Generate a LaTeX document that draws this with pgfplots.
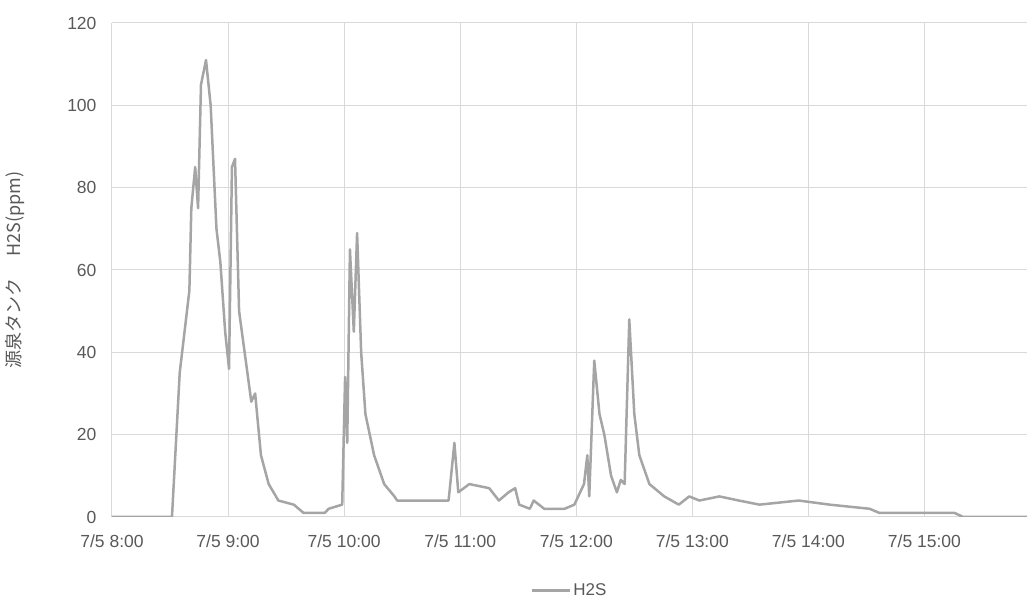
\documentclass[border=0pt]{standalone}
\usepackage{pgfplots}
\pgfplotsset{compat=1.18}
\usepackage{fontspec}
\setmainfont{Liberation Sans}
\newfontfamily\cjk{Noto Sans CJK JP}
\definecolor{txt}{HTML}{595959}
\definecolor{ln}{HTML}{A5A5A5}
\definecolor{gr}{HTML}{D9D9D9}
\begin{document}
\begin{tikzpicture}
\path[use as bounding box] (-112pt,-82pt) rectangle (916pt,517pt);
\begin{axis}[at={(0,0)},anchor=south west,scale only axis,width=915pt,height=494pt,
 xmin=0,xmax=473,ymin=0,ymax=120,
 xtick={0,60,...,420},
 xticklabels={7/5 8:00,7/5 9:00,7/5 10:00,7/5 11:00,7/5 12:00,7/5 13:00,7/5 14:00,7/5 15:00},
 ytick={0,20,...,120},
 grid=major, grid style={gr,line width=1pt},
 axis x line*=bottom, axis y line*=left,
 x axis line style={gr,line width=1pt,-},
 y axis line style={draw=none},
 tick style={draw=none},
 ticklabel style={font=\fontsize{17.5}{20}\selectfont,text=txt},
 /pgf/number format/assume math mode=true,
 xticklabel style={yshift=-14pt},
 yticklabel style={xshift=-12pt},
 ylabel={\cjk 源泉タンク\hspace{1.2em}H2S(ppm)},
 ylabel style={font=\fontsize{18}{21}\selectfont,text=txt,at={(axis description cs:-0.092,0.5)}},
 legend style={at={(0.5,-0.148)},anchor=center,draw=none,font=\fontsize{17}{20}\selectfont,text=txt},
 legend image code/.code={\draw[#1,line width=3pt] (0pt,0pt) -- (38pt,0pt);},
]
\addplot[ln,line width=2.5pt,line join=round] coordinates {
(0,0)(31,0)(35,35)(40,55)(41,75)(43,85)(44.5,75)(46,105)(48.6,111)(51,100)(54,70)(56,62)
(58.5,45)(60.5,36)(62,85)(63.6,87)(65.7,50)(70,35)(72,28)(74,30)(77,15)(81,8)(86,4)(94,3)
(99,1)(110,1)(112,2)(119,3)(120.5,34)(121.6,18)(123,65)(125,45)(126.7,69)(128.8,40)(131,25)
(135.5,15)(140.7,8)(146,5)(147.4,4)(169,4)(174,4)(177,18)(179,6)(184.7,8)(195,7)(200,4)
(205,6)(208.4,7)(210.5,3)(216,2)(218,4)(223.4,2)(234,2)(239,3)(244,8)(245.7,15)(246.7,5)
(249.3,38)(252,25)(254.5,20)(258,10)(261,6)(263,9)(265,8)(267.4,48)(270,25)(272.6,15)
(277.8,8)(285.5,5)(293,3)(298.4,5)(303.6,4)(314,5)(324,4)(334.7,3)(355,4)(371,3)(391.6,2)
(396.7,1)(427.8,1)(435.5,1)(440,0)(473,0)};
\addlegendentry{H2S}
\end{axis}
\end{tikzpicture}
\end{document}
